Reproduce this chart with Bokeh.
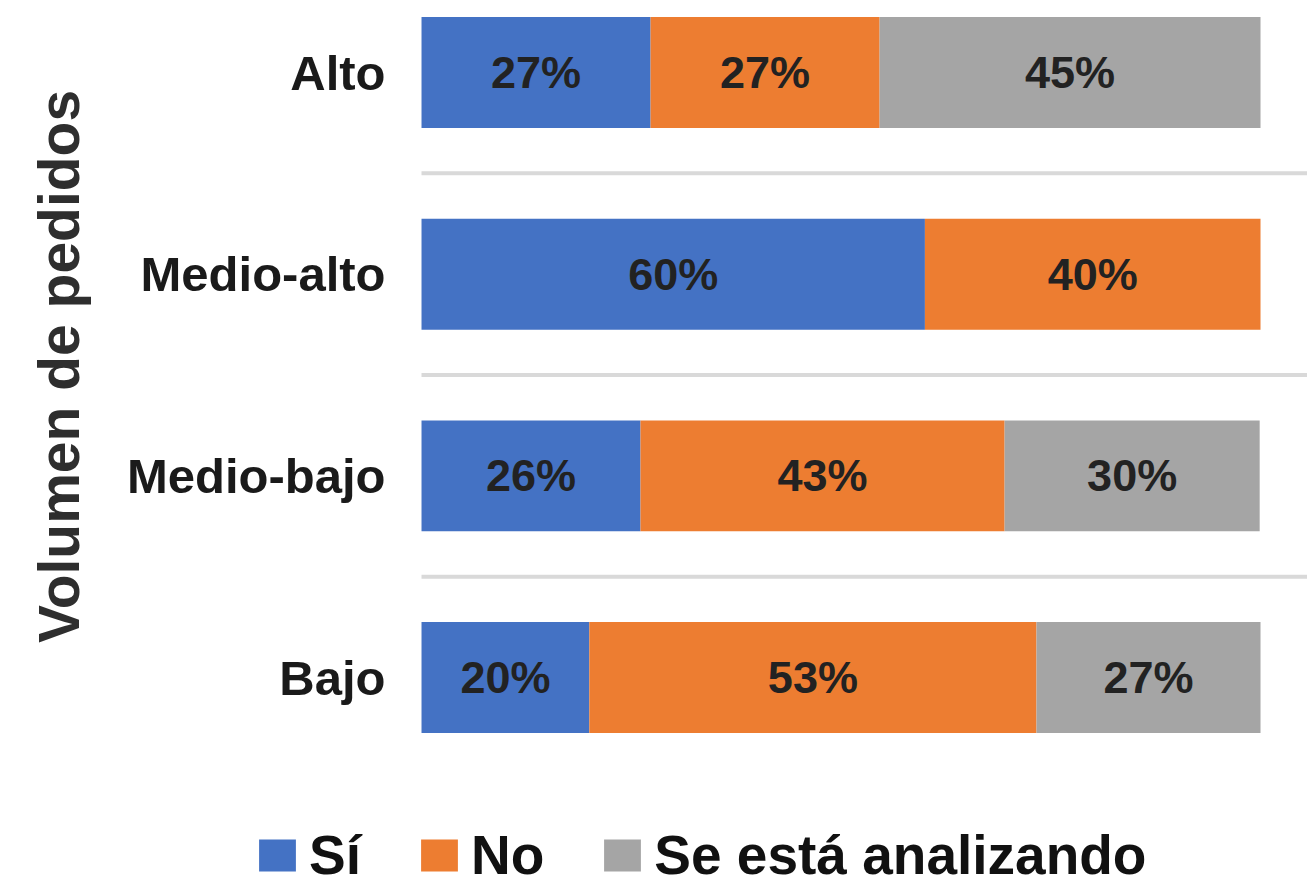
import math
from bokeh.plotting import figure
from bokeh.models import ColumnDataSource, Range1d, Legend, LegendItem, Label
from bokeh.core.properties import value
from bokeh.embed import file_html
from bokeh.resources import INLINE

# ---- data ----
categories = ["Bajo", "Medio-bajo", "Medio-alto", "Alto"]
series_names = ["Sí", "No", "Se está analizando"]
si = [20.0, 26.1, 60.0, 27.3]
no = [53.3, 43.4, 40.0, 27.3]
analizando = [26.7, 30.4, 0.0, 45.4]
axis_title = "Volumen de pedidos"
colors = ["#4472C4", "#ED7D31", "#A5A5A5"]

ypos = list(range(len(categories)))
src = ColumnDataSource(dict(y=ypos, si=si, no=no, an=analizando))

FONT = "Liberation Sans"

p = figure(width=1307, height=888, output_backend="svg", toolbar_location=None,
           x_range=Range1d(-50.18, 105.6), y_range=Range1d(-1.046, 3.357),
           x_axis_location=None, y_axis_location=None,
           min_border_left=0, min_border_right=0, min_border_top=0,
           min_border_bottom=0)
p.outline_line_color = None
p.background_fill_color = "white"
p.border_fill_color = "white"
p.xgrid.visible = False
p.ygrid.visible = False

# separators between categories (start at the value axis, run to the right edge)
seps = [k + 0.5 for k in ypos[:-1]]
p.ray(x=[0] * len(seps), y=seps, length=0, angle=0,
      line_color="#d9d9d9", line_width=4)

rs = p.hbar_stack(["si", "no", "an"], y="y", height=0.55, color=colors,
                  line_color=None, source=src)

# value labels
lx, ly, lt = [], [], []
for i in range(len(categories)):
    left = 0.0
    for v in (si[i], no[i], analizando[i]):
        if v > 0:
            lx.append(left + v / 2)
            ly.append(ypos[i])
            lt.append(f"{int(round(v))}%")
        left += v
p.text(x=lx, y=ly, text=lt, text_align="center", text_baseline="middle",
       text_font=value(FONT), text_font_style="bold",
       text_font_size="45px", text_color="#222222")

# category labels (left of the bars)
p.text(x=[0] * len(categories), y=ypos, text=categories, x_offset=-36,
       text_align="right", text_baseline="middle",
       text_font=value(FONT), text_font_style="bold",
       text_font_size="49px", text_color="#1a1a1a")

# axis title
p.add_layout(Label(x=58, y=522, x_units="screen", y_units="screen",
                   text=axis_title, angle=math.pi / 2,
                   text_align="center", text_baseline="middle",
                   text_font=FONT, text_font_style="bold",
                   text_font_size="57px", text_color="#2e2e2e"))

legend = Legend(items=[LegendItem(label=n, renderers=[r]) for n, r in zip(series_names, rs)],
                orientation="horizontal", location=(254, 1),
                glyph_width=46, glyph_height=40, label_height=35,
                label_standoff=9, spacing=55, padding=0, margin=0,
                border_line_color=None, background_fill_alpha=0,
                label_text_font=FONT, label_text_font_style="bold",
                label_text_font_size="55px", label_text_color="#111111")
p.add_layout(legend)

open("out.html", "w").write(file_html(p, INLINE))
